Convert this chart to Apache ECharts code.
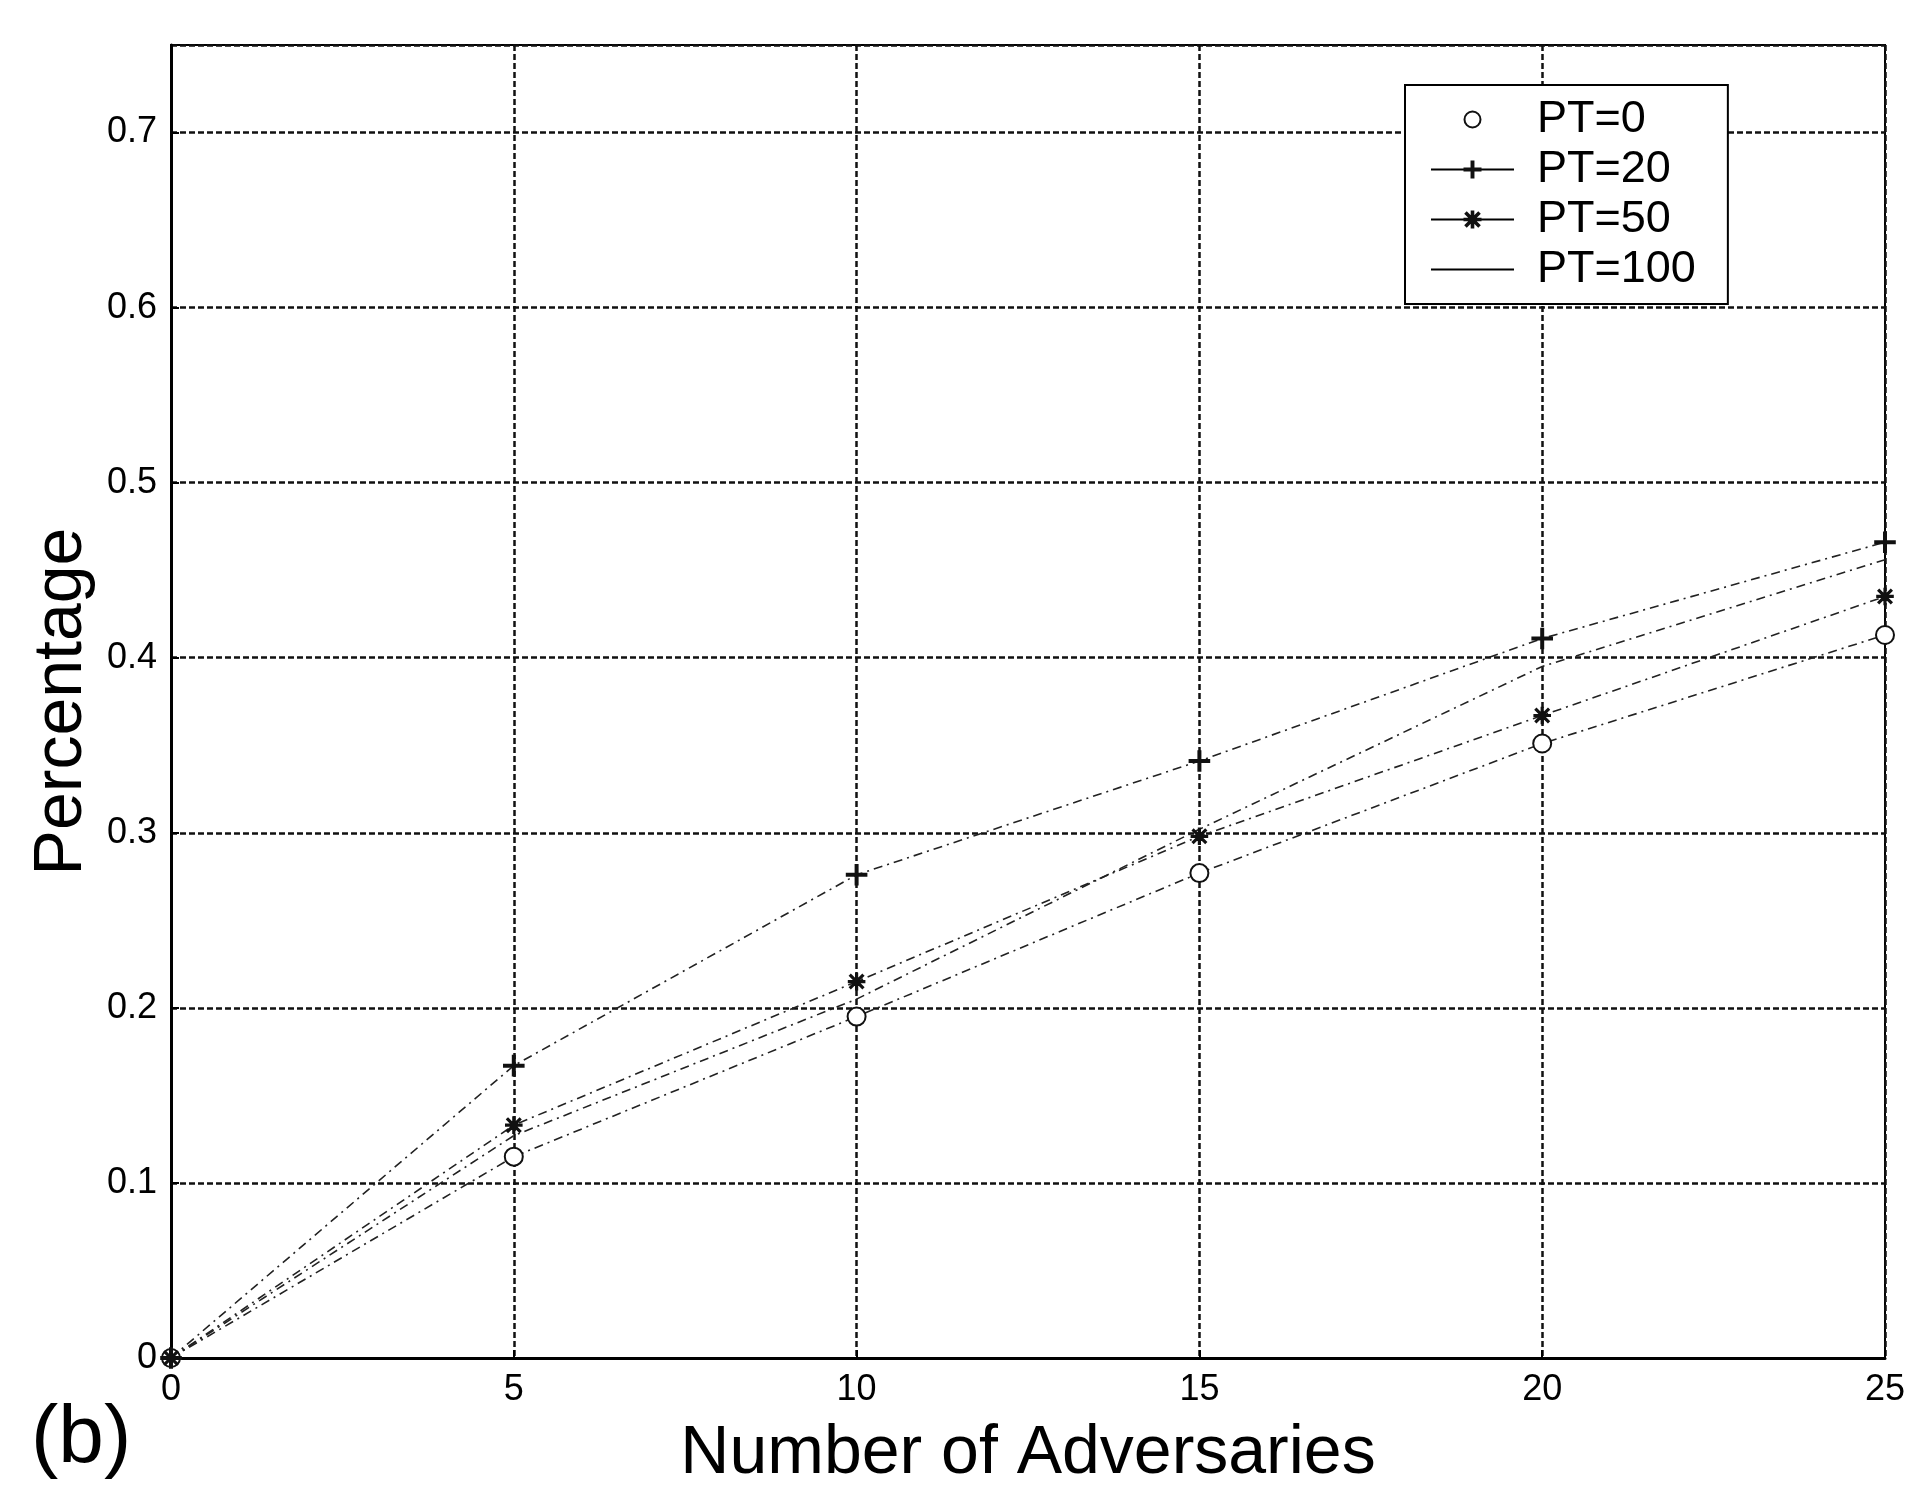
<!DOCTYPE html>
<html>
<head>
<meta charset="utf-8">
<script src="https://cdn.jsdelivr.net/npm/echarts@6/dist/echarts.min.js"></script>
<style>
html,body{margin:0;padding:0;background:#fff;}
#chart{width:1915px;height:1493px;}
</style>
</head>
<body>
<div id="chart"></div>
<script>
// ---- data ----
const adversaries = [0, 5, 10, 15, 20, 25];
const seriesNames = ['PT=0', 'PT=20', 'PT=50', 'PT=100'];
const pt0   = [0, 0.115, 0.195, 0.277, 0.351, 0.413];
const pt20  = [0, 0.167, 0.276, 0.341, 0.411, 0.466];
const pt50  = [0, 0.133, 0.215, 0.298, 0.367, 0.435];
const pt100 = [0, 0.127, 0.205, 0.302, 0.395, 0.456];
const xTicks = [0, 5, 10, 15, 20, 25];
const yTicks = [0, 0.1, 0.2, 0.3, 0.4, 0.5, 0.6, 0.7];

const FONT = 'Liberation Sans';
const plusPath = 'path://M4.4,0 H5.6 V4.4 H10 V5.6 H5.6 V10 H4.4 V5.6 H0 V4.4 H4.4 Z';
const starPath = 'path://M0,4.5 H10 V5.5 H0 Z M4.5,0 H5.5 V10 H4.5 Z M0.7,1.4 L1.4,0.7 L9.3,8.6 L8.6,9.3 Z M8.6,0.7 L9.3,1.4 L1.4,9.3 L0.7,8.6 Z';

function pairs(vals){ return adversaries.map((x,i)=>[x, vals[i]]); }

const lineDash = [9,5,2,5];
function mkSeries(name, vals, symbol, size){
  return {
    name: name,
    type: 'line',
    data: pairs(vals),
    symbol: symbol,
    symbolSize: size,
    showSymbol: symbol !== 'none',
    color: '#111',
    lineStyle: {color: '#222', width: 1.6, type: lineDash},
    itemStyle: {color: '#111', borderColor: '#111', borderWidth: 1.6},
    emphasis: {disabled: true},
    animation: false,
    z: 3
  };
}

const chart = echarts.init(document.getElementById('chart'), null, {renderer: 'canvas'});
chart.setOption({
  backgroundColor: '#fff',
  animation: false,
  title: {
    text: '(b)', left: 26, top: 1393,
    textStyle: {fontFamily: FONT, fontSize: 82, fontWeight: 'normal', color: '#000'}
  },
  grid: {left: 171, right: 30, top: 45, bottom: 125, show: true, borderColor: '#000', borderWidth: 2, backgroundColor: 'transparent'},
  legend: {
    orient: 'vertical',
    left: 1405, top: 85,
    padding: [12, 32, 12, 25],
    itemWidth: 83, itemHeight: 20, itemGap: 5,
    backgroundColor: '#fff',
    borderColor: '#000', borderWidth: 2, borderRadius: 0,
    textStyle: {fontFamily: FONT, fontSize: 45, color: '#000', padding: [0, 0, 0, 18]},
    lineStyle: {type: 'solid', width: 2, color: '#000'},
    data: [
      {name: seriesNames[0], lineStyle: {opacity: 0}},
      {name: seriesNames[1]},
      {name: seriesNames[2]},
      {name: seriesNames[3], itemStyle: {opacity: 0}}
    ]
  },
  xAxis: {
    type: 'value', min: 0, max: 25, interval: 5,
    name: 'Number of Adversaries', nameLocation: 'middle', nameGap: 62,
    nameTextStyle: {fontFamily: FONT, fontSize: 68, color: '#000'},
    axisLine: {show: true, lineStyle: {color: '#000', width: 3}},
    axisTick: {show: true, inside: true, length: 8, lineStyle: {color: '#000', width: 2}},
    axisLabel: {fontFamily: FONT, fontSize: 36, color: '#000', margin: 14,
      formatter: v => xTicks.indexOf(v) >= 0 ? String(v) : ''},
    splitLine: {show: true, lineStyle: {color: '#111', width: 2.5, type: [6,3]}}
  },
  yAxis: {
    type: 'value', min: 0, max: 0.75, interval: 0.1,
    name: 'Percentage', nameLocation: 'middle', nameGap: 68,
    nameTextStyle: {fontFamily: FONT, fontSize: 68, color: '#000'},
    axisLine: {show: true, lineStyle: {color: '#000', width: 3}},
    axisTick: {show: true, inside: true, length: 8, lineStyle: {color: '#000', width: 2}},
    axisLabel: {fontFamily: FONT, fontSize: 36, color: '#000', margin: 14, showMaxLabel: false,
      formatter: v => {
        const t = yTicks.find(y => Math.abs(y - v) < 1e-9);
        return t === undefined ? '' : String(t);
      }},
    splitLine: {show: true, lineStyle: {color: '#111', width: 2.5, type: [6,3]}}
  },
  series: [
    mkSeries(seriesNames[0], pt0, 'emptyCircle', 18),
    mkSeries(seriesNames[1], pt20, plusPath, 20),
    mkSeries(seriesNames[2], pt50, starPath, 16),
    mkSeries(seriesNames[3], pt100, 'none', 0)
  ]
});
</script>
</body>
</html>
